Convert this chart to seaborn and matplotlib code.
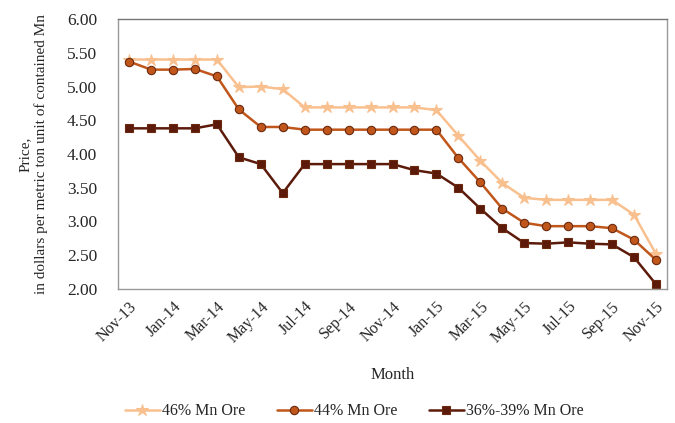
import pandas as pd
import seaborn as sns
import matplotlib.pyplot as plt

# Monthly prices, Nov-13 .. Nov-15
months = ["Nov-13", "Dec-13", "Jan-14", "Feb-14", "Mar-14", "Apr-14", "May-14", "Jun-14",
          "Jul-14", "Aug-14", "Sep-14", "Oct-14", "Nov-14", "Dec-14", "Jan-15", "Feb-15",
          "Mar-15", "Apr-15", "May-15", "Jun-15", "Jul-15", "Aug-15", "Sep-15", "Oct-15", "Nov-15"]
mn46 = [5.40, 5.40, 5.40, 5.40, 5.40, 4.99, 5.00, 4.96, 4.69, 4.69, 4.69, 4.69, 4.69, 4.69,
        4.65, 4.27, 3.90, 3.57, 3.35, 3.32, 3.32, 3.32, 3.32, 3.10, 2.52]
mn44 = [5.37, 5.25, 5.25, 5.26, 5.15, 4.66, 4.40, 4.40, 4.36, 4.36, 4.36, 4.36, 4.36, 4.36,
        4.36, 3.94, 3.58, 3.19, 2.98, 2.93, 2.93, 2.93, 2.90, 2.73, 2.43]
mn36 = [4.38, 4.38, 4.38, 4.38, 4.44, 3.95, 3.85, 3.42, 3.85, 3.85, 3.85, 3.85, 3.85, 3.76,
        3.71, 3.50, 3.19, 2.90, 2.68, 2.67, 2.69, 2.67, 2.66, 2.47, 2.07]
series = ["46% Mn Ore", "44% Mn Ore", "36%-39% Mn Ore"]

df = pd.DataFrame({"Month": months, series[0]: mn46, series[1]: mn44, series[2]: mn36})
df["idx"] = range(len(months))
long = df.melt(id_vars=["Month", "idx"], var_name="Grade", value_name="Price")

sns.set_style("white")
plt.rcParams["font.family"] = ["Liberation Serif", "DejaVu Serif"]

fig = plt.figure(figsize=(6.75, 4.23), dpi=100)
ax = fig.add_axes([0.175, 0.317, 0.813, 0.638])

colors = ["#F9C08F", "#C0561A", "#5C1A0B"]
markers = ["*", "o", "s"]
msizes = [9, 6, 6]
for name, c, m, ms in zip(series, colors, markers, msizes):
    sub = long[long["Grade"] == name]
    sns.lineplot(data=sub, x="idx", y="Price", ax=ax, color=c, marker=m, markersize=ms,
                 markeredgecolor=c if m == "*" else "#6B2A10", markeredgewidth=0.8,
                 linewidth=1.8, label=name)

ax.set_xlim(-0.5, len(months) - 0.5)
ax.set_ylim(2.0, 6.0)
ax.set_yticks([2 + 0.5 * i for i in range(9)])
ax.set_yticklabels([f"{2 + 0.5 * i:.2f}" for i in range(9)], fontsize=12.5)
ax.set_xticks(range(0, len(months), 2))
ax.set_xticklabels(months[::2], rotation=45, ha="right", rotation_mode="anchor", fontsize=11.5)
ax.set_xticks([i - 0.5 for i in range(0, len(months), 2)], minor=True)
ax.tick_params(axis="x", which="major", length=0, pad=7)
ax.tick_params(axis="x", which="minor", direction="in", length=4, color="#999999")
ax.tick_params(axis="y", direction="in", length=4, color="#999999", pad=15)

for s in ax.spines.values():
    s.set_color("#999999")
    s.set_linewidth(1)
ax.spines["top"].set_color("#777777")

ax.set_xlabel("Month", fontsize=12, labelpad=15)
ax.set_ylabel("Price,\nin dollars per metric ton unit of contained Mn", fontsize=11, labelpad=14)

ax.legend(loc="upper center", bbox_to_anchor=(0.43, -0.37), ncol=3, frameon=False,
          fontsize=11.5, handlelength=2.2, columnspacing=2.0, handletextpad=0.1)

fig.savefig("out.png", dpi=100)
